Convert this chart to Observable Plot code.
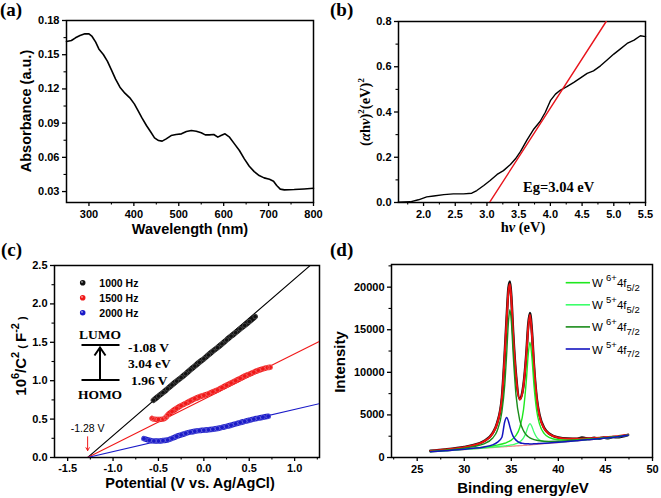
<!DOCTYPE html>
<html><head><meta charset="utf-8">
<script src="https://cdn.jsdelivr.net/npm/d3@7"></script>
<script src="https://cdn.jsdelivr.net/npm/@observablehq/plot@0.6"></script>
<style>
body{margin:0;background:#fff;}
#root{position:relative;width:661px;height:498px;overflow:hidden;background:#fff;}
text{white-space:pre;}
</style></head>
<body><div id="root"></div>
<script>
// ---------------- DATA ----------------
// (a) UV-vis absorbance
const wavelengthA = [250,261,270,280,291,300,307,315,322,332,341,350,359,369,380,391,401,409,418,428,438,446,455,463,472,483,494,506,517,528,539,550,559,568,578,587,594,603,613,624,635,646,657,668,679,690,702,711,718,726,735,757,779,800];
const absorbanceA = [0.1616,0.1625,0.1648,0.1668,0.1683,0.1683,0.166,0.161,0.1551,0.1502,0.1443,0.1367,0.1288,0.1215,0.1163,0.1122,0.1069,0.1011,0.0946,0.0879,0.0820,0.0771,0.0747,0.0742,0.0762,0.0791,0.0800,0.0806,0.0826,0.0835,0.0829,0.0815,0.0797,0.0797,0.0800,0.0777,0.0791,0.0806,0.0777,0.0718,0.0660,0.0587,0.0522,0.0475,0.0440,0.0420,0.0408,0.0391,0.0353,0.0321,0.0315,0.0318,0.0323,0.0329];
const xTicksA = [300,400,500,600,700,800];
const xMinorA = [350,450,550,650,750];
const yTicksA = [0.03,0.06,0.09,0.12,0.15,0.18];
const yMinorA = [0.045,0.075,0.105,0.135,0.165];

// (b) Tauc plot
const photonB = [1.6,1.79,1.92,2.05,2.16,2.32,2.47,2.63,2.76,2.84,2.95,3.05,3.16,3.26,3.37,3.45,3.53,3.63,3.74,3.84,3.92,4.0,4.08,4.16,4.26,4.37,4.47,4.58,4.68,4.79,4.89,5.0,5.1,5.21,5.32,5.42,5.5];
const taucB = [0.0015,0.003,0.012,0.025,0.029,0.035,0.038,0.038,0.041,0.053,0.075,0.097,0.124,0.141,0.168,0.193,0.226,0.276,0.325,0.359,0.399,0.45,0.479,0.497,0.512,0.531,0.55,0.571,0.582,0.604,0.629,0.656,0.678,0.703,0.718,0.737,0.733];
const fitBX = [3.04, 4.88];
const fitBY = [0, 0.8];
const egLabel = ["Eg=3.04 eV"], egX = [4.13], egY = [0.068];
const xTicksB = [2.0,2.5,3.0,3.5,4.0,4.5,5.0,5.5];
const xMinorB = [1.75,2.25,2.75,3.25,3.75,4.25,4.75,5.25];
const yTicksB = [0,0.2,0.4,0.6,0.8];
const yMinorB = [0.1,0.3,0.5,0.7];

// (c) Mott-Schottky
const potBlack = [-0.555,-0.5,-0.45,-0.4,-0.35,-0.3,-0.25,-0.2,-0.15,-0.1,-0.05,0,0.05,0.1,0.15,0.2,0.25,0.3,0.35,0.4,0.45,0.5,0.565];
const c1000 = [0.745,0.80,0.845,0.895,0.945,0.995,1.04,1.09,1.14,1.19,1.24,1.285,1.335,1.385,1.43,1.48,1.53,1.58,1.625,1.675,1.72,1.77,1.835];
const potRed = [-0.57,-0.55,-0.5,-0.45,-0.42,-0.4,-0.35,-0.3,-0.25,-0.2,-0.15,-0.1,-0.05,0,0.05,0.1,0.15,0.2,0.25,0.3,0.35,0.4,0.45,0.5,0.55,0.6,0.65,0.7,0.73];
const c1500 = [0.51,0.50,0.495,0.50,0.52,0.55,0.60,0.64,0.675,0.705,0.735,0.765,0.79,0.81,0.83,0.855,0.88,0.91,0.94,0.97,1.0,1.03,1.06,1.085,1.11,1.135,1.155,1.17,1.175];
const potBlue = [-0.66,-0.6,-0.55,-0.5,-0.45,-0.4,-0.35,-0.3,-0.25,-0.2,-0.15,-0.1,-0.05,0,0.05,0.1,0.15,0.2,0.25,0.3,0.35,0.4,0.45,0.5,0.55,0.6,0.65,0.71];
const c2000 = [0.245,0.225,0.215,0.215,0.22,0.228,0.25,0.275,0.295,0.315,0.33,0.342,0.35,0.355,0.36,0.368,0.378,0.392,0.405,0.42,0.438,0.455,0.47,0.485,0.50,0.512,0.525,0.537];
const fitCX = [-1.28, 1.274];
const fit1000Y = [0, 2.605];
const fit1500Y = [0, 1.512];
const fit2000Y = [0, 0.702];
const freqLabels = ["1000 Hz","1500 Hz","2000 Hz"];
const freqColors = ["#111111","#f01818","#1a1ac8"];
const flatbandLabel = ["-1.28 V"], flatbandX = [-1.28], flatbandY = [0.37];
const arrowY1 = [0.27], arrowY2 = [0.09];
const levelLabels = ["-1.08 V","3.04 eV","1.96 V"];
const xTicksC = [-1.5,-1.0,-0.5,0.0,0.5,1.0];
const xMinorC = [-1.25,-0.75,-0.25,0.25,0.75,1.25];
const yTicksC = [0,0.5,1.0,1.5,2.0,2.5];
const yMinorC = [0.25,0.75,1.25,1.75,2.25];

// (d) XPS W4f
const energyD = [26.4,28,30,31,32,33,33.5,34,34.3,34.5,34.7,34.85,35,35.2,35.5,35.9,36.3,36.6,36.8,36.98,37.2,37.4,37.7,38,38.5,39,40,41,42,43,44,45,46,47.4];
const backgroundD = [660,780,930,1010,1090,1170,1210,1250,1270,1290,1300,1310,1320,1335,1360,1390,1420,1440,1455,1470,1490,1510,1540,1570,1620,1670,1760,1860,1960,2060,2160,2270,2380,2600];
const w6f72 = [716,865,1100,1276,1569,2261,3144,5371,8523,12048,16006,17340,16026,12093,7319,4353,3123,2650,2444,2307,2184,2103,2019,1964,1915,1899,1910,1965,2038,2120,2208,2309,2412,2625];
const w6f52 = [687,817,992,1094,1211,1358,1455,1581,1677,1762,1854,1941,2043,2219,2598,3521,5659,9095,12145,13550,11607,8591,5474,3911,2800,2368,2082,2044,2079,2143,2221,2317,2417,2627];
const w5f72 = [673,800,971,1077,1216,1479,1777,2383,4201,4690,4231,3592,3020,2484,2040,1736,1647,1613,1602,1598,1599,1605,1619,1637,1672,1711,1788,1880,1975,2072,2169,2278,2386,2605];
const w5f52 = [666,788,943,1027,1115,1209,1261,1319,1355,1388,1415,1441,1470,1519,1617,1833,2301,3031,3676,3980,3592,2981,2358,2056,1865,1815,1827,1898,1985,2077,2173,2280,2388,2606];
const envelopeD = [762,930,1215,1444,1841,2797,4007,6904,11946,16018,19606,20384,18599,14310,9494,6800,8470,12069,15300,16750,14300,10750,6850,4858,3392,2783,2327,2207,2197,2232,2291,2374,2463,2673];
const rawX = [26.4,28,30,31,32,33,33.5,34,34.3,34.5,34.7,34.85,35,35.2,35.5,35.9,36.3,36.6,36.8,36.98,37.2,37.4,37.7,38,38.5,39,40,41,42,42.5,42.8,43.3,43.8,44.3,44.8,45.3,45.8,46.3,46.8,47.4];
const rawY = [780,940,1230,1460,1860,2830,4060,7000,12100,16250,19900,20650,18850,14500,9600,6850,8550,12200,15600,16950,14600,10850,6950,4950,3450,2820,2350,2230,2210,2330,2280,2220,2300,2220,2350,2260,2400,2380,2480,2650];
const compLabels = [["6+","5/2"],["5+","5/2"],["6+","7/2"],["5+","7/2"]];
const compColors = ["#1ee81e","#3cff6a","#1a8c1a","#1414c0"];
const xTicksD = [25,30,35,40,45,50];
const xMinorD = [22.5,27.5,32.5,37.5,42.5,47.5];
const yTicksD = [0,5000,10000,15000,20000];
const yMinorD = [2500,7500,12500,17500,22500];

// ---------------- HELPERS ----------------
const SANS = "'Liberation Sans', Arial, Helvetica, sans-serif";
const SERIF = "'Liberation Serif', 'Times New Roman', Times, serif";
const baseStyle = {fontFamily: SANS, fontSize: "11px", fontWeight: "bold", background: "white", color: "black"};

function axes(xt, xm, yt, ym, xf, yf, xPad = 3.5) {
  return [
    Plot.axisX({ticks: xt, tickSize: 4, tickPadding: xPad, tickFormat: xf, label: null, strokeWidth: 1.3}),
    Plot.axisX({ticks: xm, tickSize: 2.5, tickFormat: () => "", label: null, strokeWidth: 1.1}),
    Plot.axisY({ticks: yt, tickSize: 4, tickPadding: 3, tickFormat: yf, label: null, strokeWidth: 1.3}),
    Plot.axisY({ticks: ym, tickSize: 2.5, tickFormat: () => "", label: null, strokeWidth: 1.1}),
    Plot.frame({stroke: "black", strokeWidth: 1.5})
  ];
}
function place(svg, left, top) {
  svg.style.position = "absolute";
  svg.style.left = left + "px";
  svg.style.top = top + "px";
  document.getElementById("root").appendChild(svg);
  return d3.select(svg);
}
function rich(sel, {x, y, rotate = 0, anchor = "middle", family = SANS, weight = "bold", size = 14, parts}) {
  const t = sel.append("text")
    .attr("transform", `translate(${x},${y}) rotate(${rotate})`)
    .attr("text-anchor", anchor).attr("font-family", family)
    .attr("font-weight", weight).attr("font-size", size).attr("fill", "black");
  let cur = 0;
  for (const p of parts) {
    const [txt, o] = typeof p === "string" ? [p, {}] : p;
    const shift = o.shift || 0;
    const ts = t.append("tspan").text(txt).attr("dy", shift - cur);
    cur = shift;
    if (o.size) ts.attr("font-size", o.size);
    if (o.italic) ts.attr("font-style", "italic");
  }
  return t;
}
const zip = (xs, ys) => xs.map((x, i) => ({x, y: ys[i]}));

// ---------------- PANEL (a) ----------------
const svgA = Plot.plot({
  width: 330, height: 240, marginLeft: 66, marginTop: 20, marginRight: 17, marginBottom: 38,
  style: baseStyle,
  x: {domain: [250, 800], label: null},
  y: {domain: [0.0204, 0.18], label: null},
  marks: [
    ...axes(xTicksA, xMinorA, yTicksA, yMinorA, d => String(d), d => d.toFixed(2)),
    Plot.line(zip(wavelengthA, absorbanceA), {x: "x", y: "y", stroke: "black", strokeWidth: 1.6})
  ]
});
const gA = place(svgA, 0, 0);
rich(gA, {x: 0, y: 15.5, anchor: "start", family: SERIF, size: 19, parts: ["(a)"]});
rich(gA, {x: 30.5, y: 111, rotate: -90, size: 14.5, parts: ["Absorbance (a.u.)"]});
rich(gA, {x: 190, y: 234, size: 14.5, parts: ["Wavelength (nm)"]});

// ---------------- PANEL (b) ----------------
const svgB = Plot.plot({
  width: 331, height: 240, marginLeft: 68, marginTop: 21, marginRight: 16, marginBottom: 38,
  style: baseStyle,
  x: {domain: [1.605, 5.5], label: null},
  y: {domain: [0, 0.8], label: null},
  marks: [
    ...axes(xTicksB, xMinorB, yTicksB, yMinorB, d => d.toFixed(1), d => d.toFixed(1)),
    Plot.line(zip(photonB, taucB), {x: "x", y: "y", stroke: "black", strokeWidth: 1.4}),
    Plot.line(zip(fitBX, fitBY), {x: "x", y: "y", stroke: "#e8141c", strokeWidth: 1.4, clip: true}),
    Plot.text(egLabel, {x: egX, y: egY, text: d => d, fontFamily: SERIF, fontSize: 14.5, fontWeight: "bold"})
  ]
});
const gB = place(svgB, 330, 0);
rich(gB, {x: 0, y: 15.5, anchor: "start", family: SERIF, size: 19, parts: ["(b)"]});
rich(gB, {x: 39.5, y: 112, rotate: -90, family: SERIF, size: 14.5,
  parts: ["(", ["α", {italic: true}], "h", ["ν", {italic: true}], ")", ["2", {size: 9, shift: -6}], ["(eV)", {shift: 0}], ["2", {size: 9, shift: -6}]]});
rich(gB, {x: 193, y: 231.5, family: SERIF, size: 14.5, parts: ["h", ["ν", {italic: true}], " (eV)"]});

// ---------------- PANEL (c) ----------------
const svgC = Plot.plot({
  width: 330, height: 258, marginLeft: 54, marginTop: 25, marginRight: 11, marginBottom: 41,
  style: baseStyle,
  x: {domain: [-1.645, 1.274], label: null},
  y: {domain: [0, 2.5], label: null},
  marks: [
    ...axes(xTicksC, xMinorC, yTicksC, yMinorC, d => d.toFixed(1), d => d.toFixed(1), 2.5),
    Plot.line(zip(fitCX, fit1000Y), {x: "x", y: "y", stroke: "black", strokeWidth: 1.1, clip: true}),
    Plot.line(zip(fitCX, fit1500Y), {x: "x", y: "y", stroke: "#f01818", strokeWidth: 1.1, clip: true}),
    Plot.line(zip(fitCX, fit2000Y), {x: "x", y: "y", stroke: "#1a1ac8", strokeWidth: 1.1, clip: true}),
    Plot.line(zip(potBlack, c1000), {x: "x", y: "y", stroke: freqColors[0], strokeWidth: 5.5, strokeLinecap: "round", curve: "monotone-x"}),
    Plot.dot(zip(potBlack, c1000), {x: "x", y: "y", r: 2.3, stroke: "white", strokeOpacity: 0.3, strokeWidth: 0.7}),
    Plot.line(zip(potRed, c1500), {x: "x", y: "y", stroke: freqColors[1], strokeWidth: 5.5, strokeLinecap: "round", curve: "monotone-x"}),
    Plot.dot(zip(potRed, c1500), {x: "x", y: "y", r: 2.3, stroke: "white", strokeOpacity: 0.3, strokeWidth: 0.7}),
    Plot.line(zip(potBlue, c2000), {x: "x", y: "y", stroke: freqColors[2], strokeWidth: 5.5, strokeLinecap: "round", curve: "monotone-x"}),
    Plot.dot(zip(potBlue, c2000), {x: "x", y: "y", r: 2.3, stroke: "white", strokeOpacity: 0.3, strokeWidth: 0.7}),
    Plot.arrow(flatbandX, {x1: d => d, x2: d => d, y1: arrowY1, y2: arrowY2, stroke: "#f01818", strokeWidth: 1, headLength: 5}),
    Plot.text(flatbandLabel, {x: flatbandX, y: flatbandY, text: d => d, fontSize: 10.5, fontWeight: "normal"})
  ]
});
const gC = place(svgC, 0, 240);
rich(gC, {x: 1, y: 15.5, anchor: "start", family: SERIF, size: 19, parts: ["(c)"]});
rich(gC, {x: 26, y: 116, rotate: -90, size: 15,
  parts: ["10", ["6", {size: 11, shift: -7}], ["/C", {shift: 0}], ["2", {size: 11, shift: -7}], [" ( ", {size: 11, shift: 0}], ["F", {shift: 0}], ["-2", {size: 11, shift: -7}], [" )", {size: 11, shift: 0}]]});
rich(gC, {x: 190, y: 247.5, size: 14.5, parts: ["Potential (V vs. Ag/AgCl)"]});
// legend
freqLabels.forEach((lab, i) => {
  const y = 42.7 + i * 15;
  gC.append("circle").attr("cx", 82.7).attr("cy", y).attr("r", 2.8).attr("fill", freqColors[i]);
  gC.append("circle").attr("cx", 82).attr("cy", y - 0.8).attr("r", 0.9).attr("fill", "white").attr("opacity", 0.6);
  rich(gC, {x: 99.3, y: y + 3.8, anchor: "start", size: 10.5, parts: [lab]});
});
// LUMO / HOMO diagram
rich(gC, {x: 100, y: 98.5, family: SERIF, size: 13.5, parts: ["LUMO"]});
rich(gC, {x: 100, y: 158.5, family: SERIF, size: 13.5, parts: ["HOMO"]});
gC.append("line").attr("x1", 81.5).attr("x2", 119.5).attr("y1", 105).attr("y2", 105).attr("stroke", "black").attr("stroke-width", 2);
gC.append("line").attr("x1", 81.5).attr("x2", 119.5).attr("y1", 140).attr("y2", 140).attr("stroke", "black").attr("stroke-width", 2);
gC.append("line").attr("x1", 100).attr("x2", 100).attr("y1", 140).attr("y2", 108).attr("stroke", "black").attr("stroke-width", 2);
gC.append("path").attr("d", "M94.5,115.5 L100,107.5 L105.5,115.5").attr("fill", "none").attr("stroke", "black").attr("stroke-width", 2);
rich(gC, {x: 128, y: 111.5, anchor: "start", family: SERIF, size: 13.5, parts: [levelLabels[0]]});
rich(gC, {x: 128, y: 128, anchor: "start", family: SERIF, size: 13.5, parts: [levelLabels[1]]});
rich(gC, {x: 131, y: 145, anchor: "start", family: SERIF, size: 13.5, parts: [levelLabels[2]]});

// ---------------- PANEL (d) ----------------
const mono = "monotone-x";
const svgD = Plot.plot({
  width: 331, height: 258, marginLeft: 61, marginTop: 24, marginRight: 9, marginBottom: 41,
  style: baseStyle,
  x: {domain: [22.27, 50], label: null},
  y: {domain: [0, 22660], label: null},
  marks: [
    ...axes(xTicksD, xMinorD, yTicksD, yMinorD, d => String(d), d => String(d)),
    Plot.line(zip(energyD, backgroundD), {x: "x", y: "y", stroke: "#f09090", strokeWidth: 1.3, curve: mono}),
    Plot.line(zip(rawX, rawY), {x: "x", y: "y", stroke: "#111", strokeWidth: 2.6, curve: mono}),
    Plot.line(zip(energyD, envelopeD), {x: "x", y: "y", stroke: "#f01010", strokeWidth: 2, curve: mono}),
    Plot.line(zip(energyD, w5f52), {x: "x", y: "y", stroke: compColors[1], strokeWidth: 1.3, curve: mono}),
    Plot.line(zip(energyD, w6f52), {x: "x", y: "y", stroke: compColors[0], strokeWidth: 1.4, curve: mono}),
    Plot.line(zip(energyD, w6f72), {x: "x", y: "y", stroke: compColors[2], strokeWidth: 1.4, curve: mono}),
    Plot.line(zip(energyD, w5f72), {x: "x", y: "y", stroke: compColors[3], strokeWidth: 1.5, curve: mono})
  ]
});
const gD = place(svgD, 330, 240);
rich(gD, {x: 0, y: 15.5, anchor: "start", family: SERIF, size: 19, parts: ["(d)"]});
rich(gD, {x: 15, y: 122, rotate: -90, size: 15, parts: ["Intensity"]});
rich(gD, {x: 193, y: 252.5, size: 15, parts: ["Binding energy/eV"]});
compLabels.forEach(([ox, sub], i) => {
  const y = 42.7 + i * 22.1;
  gD.append("line").attr("x1", 235.7).attr("x2", 260).attr("y1", y).attr("y2", y).attr("stroke", compColors[i]).attr("stroke-width", 1.6);
  rich(gD, {x: 262, y: y + 4.5, anchor: "start", weight: "normal", size: 11.5,
    parts: ["W ", [ox, {size: 9.5, shift: -6}], ["4f", {shift: 0}], [sub, {size: 9.5, shift: 3.5}]]});
});
</script>
</body></html>
